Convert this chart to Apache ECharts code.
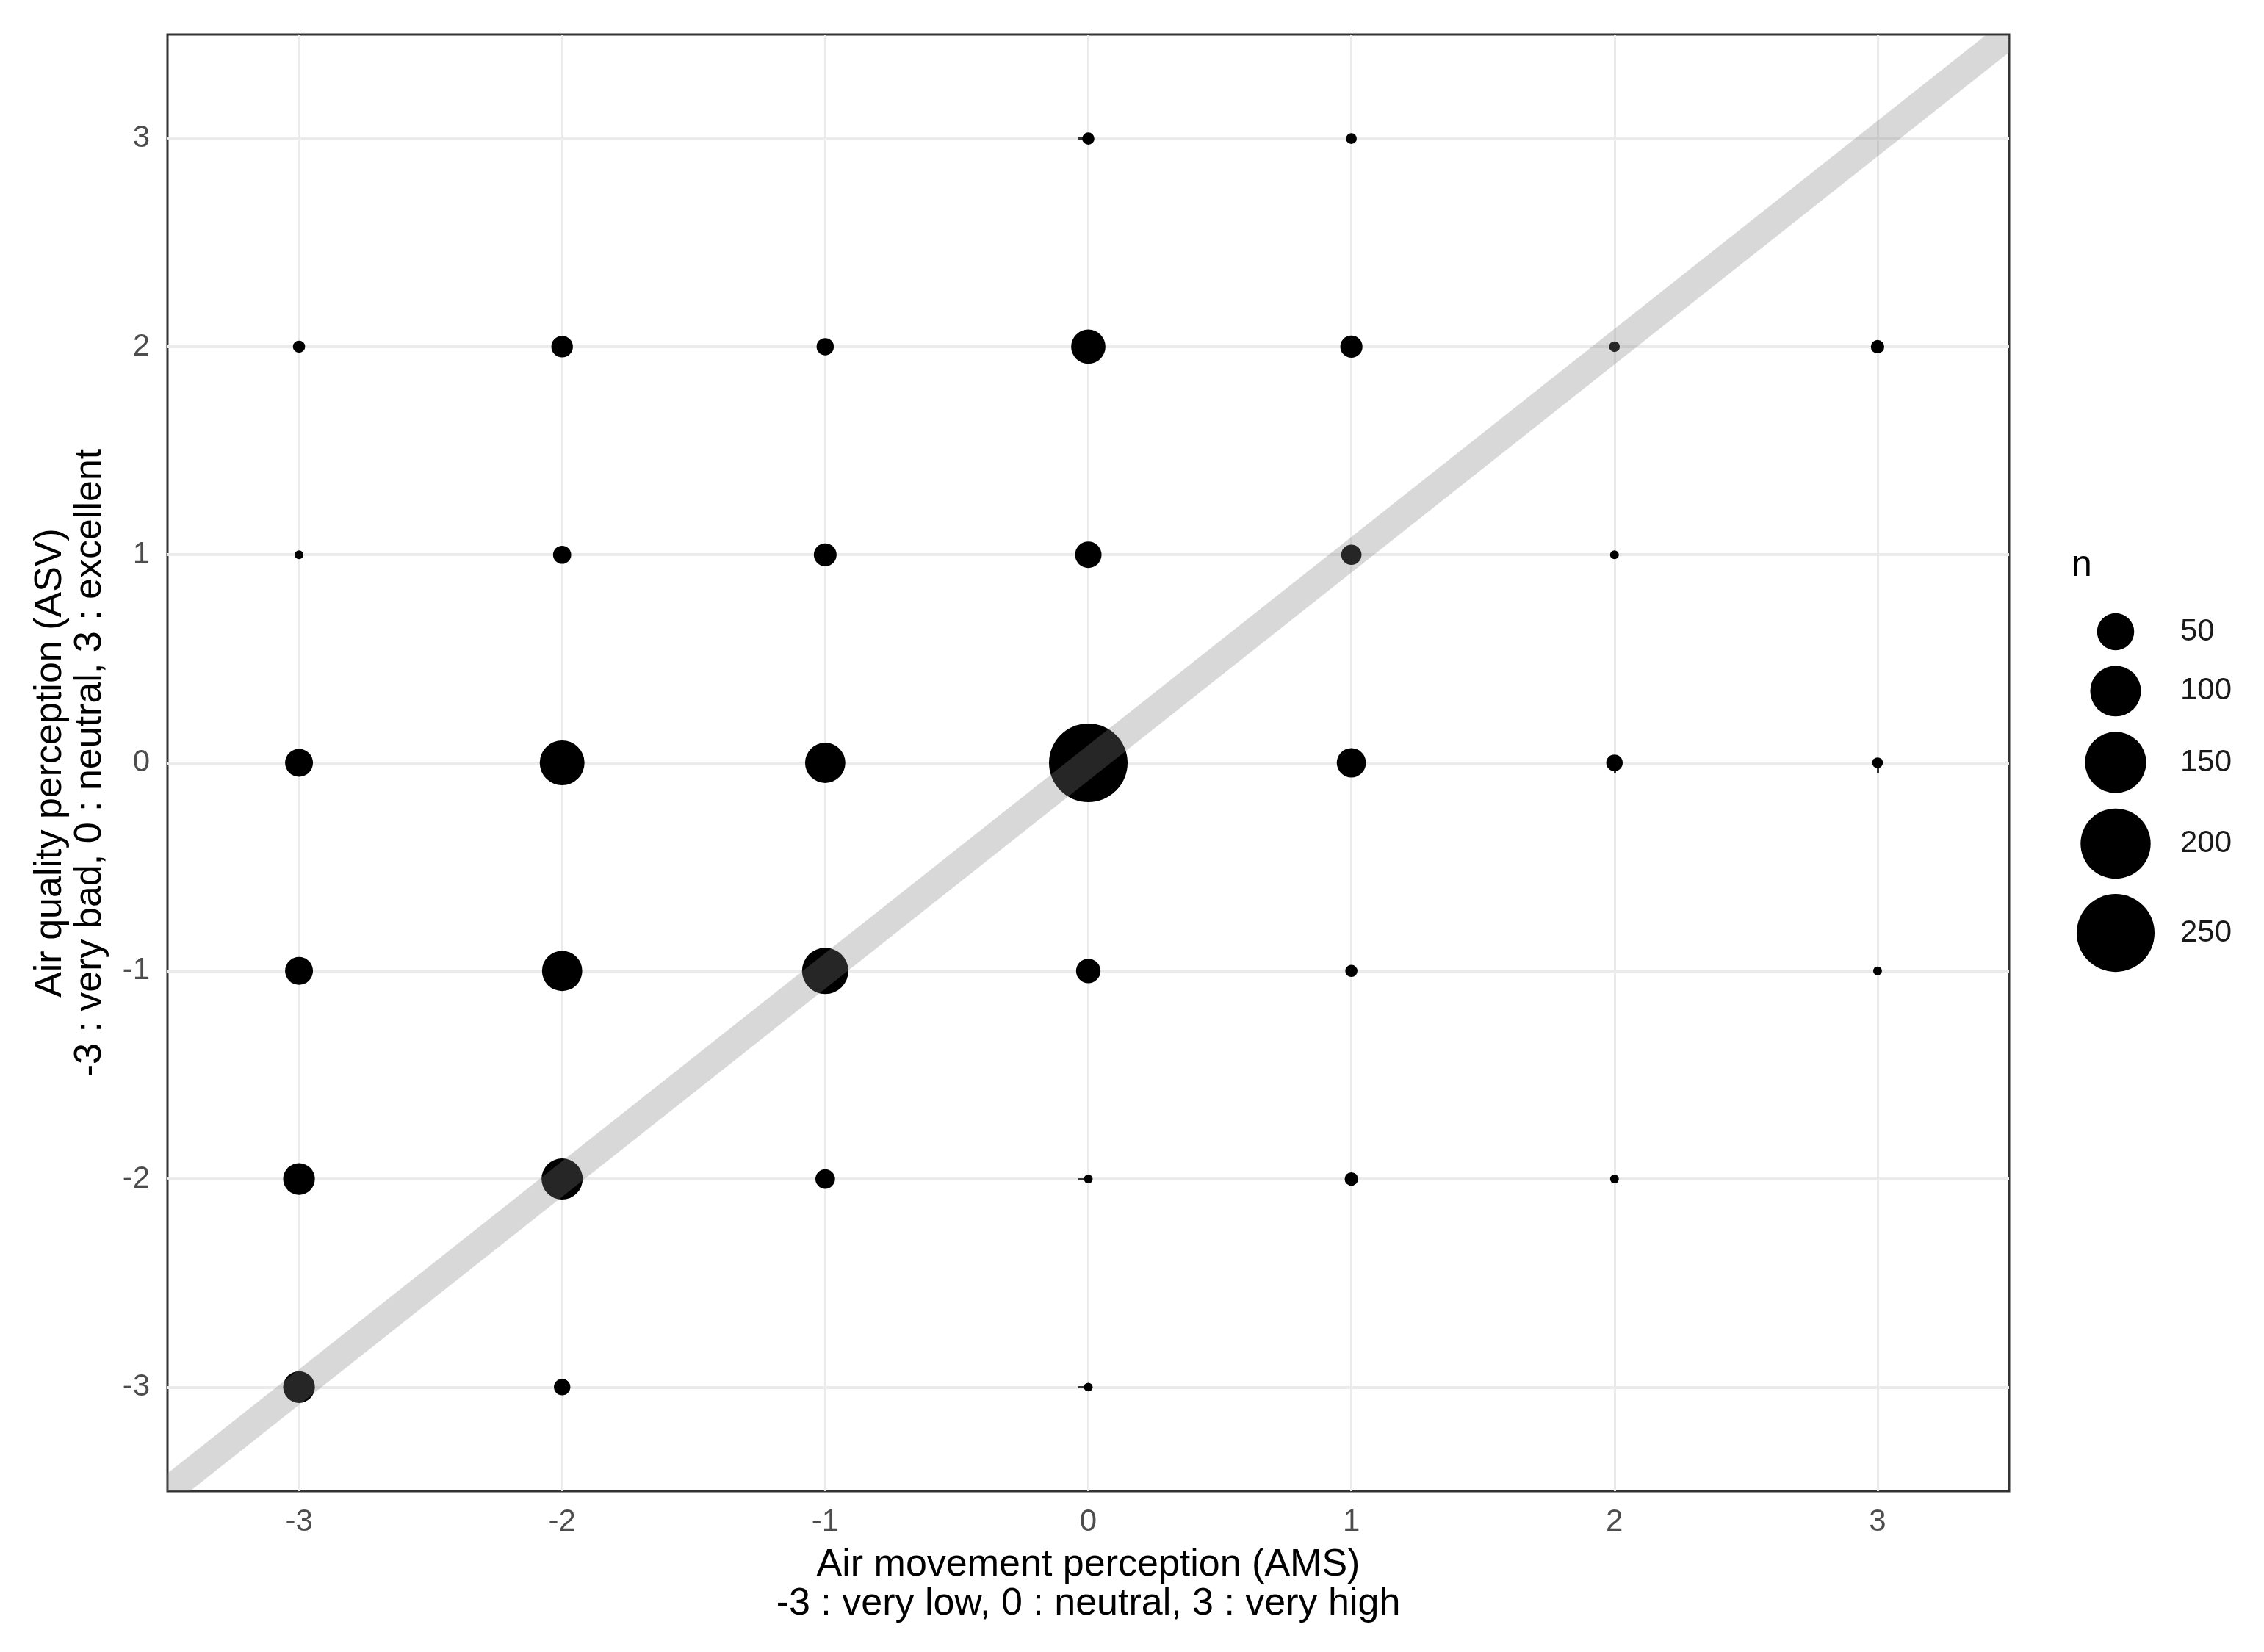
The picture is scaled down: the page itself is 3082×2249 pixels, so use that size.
<!DOCTYPE html>
<html>
<head>
<meta charset="utf-8">
<title>AMS vs ASV</title>
<script src="https://cdn.jsdelivr.net/npm/echarts@6/dist/echarts.min.js"></script>
<style>
  body { margin: 0; background: #fff; }
  #chart { width: 3082px; height: 2249px; }
</style>
</head>
<body>
<div id="chart"></div>
<script>
// counts per (AMS, ASV) pair
const ams   = [0, 1,  -3, -2, -1, 0, 1, 2, 3,  -3, -2, -1, 0, 1, 2,  -3, -2, -1, 0, 1, 2, 3,  -3, -2, -1, 0, 1, 3,  -3, -2, -1, 0, 1, 2,  -3, -2, 0];
const asv   = [3, 3,   2,  2,  2, 2, 2, 2, 2,   1,  1,  1, 1, 1, 1,   0,  0,  0, 0, 0, 0, 0,  -1, -1, -1, -1, -1, -1,  -2, -2, -2, -2, -2, -2,  -3, -3, -3];
const count = [3, 2,   3, 14,  8, 42, 15, 2, 4,  1,  9, 16, 23, 12, 1,  26, 76, 60, 255, 29, 7, 2,  26, 60, 82, 19, 3, 1,  35, 63, 11, 1, 4, 1,  35, 7, 1];

const ticks = [-3, -2, -1, 0, 1, 2, 3];
const legendBreaks = [50, 100, 150, 200, 250];
// y = x reference line, drawn past the panel and clipped to it
const refLine = [-4, 4];

const FONT = "'Liberation Sans', Arial, sans-serif";

// area-proportional bubble size (diameter in px)
const sizeOf = (n) => 5.6 + 6.35 * Math.sqrt(n);

const points = ams.map((x, i) => [x, asv[i], count[i]]);

// legend keys, stacked like ggplot's size guide
const legendItems = [];
let cy = 860;
legendBreaks.forEach((b, i) => {
    const d = sizeOf(b);
    if (i > 0) cy += (sizeOf(legendBreaks[i - 1]) + d) / 2 + 21;
    legendItems.push({
        type: 'circle',
        shape: { cx: 2880, cy: cy, r: d / 2 },
        style: { fill: '#000' }
    });
    legendItems.push({
        type: 'text',
        x: 2968, y: cy,
        style: { text: String(b), font: '42px ' + FONT, fill: '#1a1a1a', textVerticalAlign: 'middle' }
    });
});
legendItems.push({
    type: 'text',
    x: 2820, y: 770,
    style: { text: 'n', font: '50px ' + FONT, fill: '#000', textVerticalAlign: 'middle' }
});

const axisCommon = {
    type: 'value',
    min: -3.5,
    max: 3.5,
    axisLine: { show: false },
    axisTick: { show: true, length: 14, customValues: ticks, lineStyle: { color: '#333', width: 3 } },
    nameLocation: 'middle'
};

const chart = echarts.init(document.getElementById('chart'));
chart.setOption({
    backgroundColor: '#fff',
    animation: false,
    grid: {
        left: 228, right: 347, top: 47, bottom: 219,
        show: true, borderColor: '#333', borderWidth: 3, backgroundColor: 'transparent'
    },
    xAxis: Object.assign({}, axisCommon, {
        name: 'Air movement perception (AMS)\n-3 : very low, 0 : neutral, 3 : very high',
        nameGap: 74,
        nameTextStyle: { fontSize: 52, lineHeight: 53, color: '#000', fontFamily: FONT },
        axisLabel: { customValues: ticks, margin: 21, fontSize: 42, color: '#4d4d4d', fontFamily: FONT },
        splitLine: { show: true, lineStyle: { color: '#ebebeb', width: 3 } }
    }),
    yAxis: Object.assign({}, axisCommon, {
        name: 'Air quality perception (ASV)\n-3 : very bad, 0 : neutral, 3 : excellent',
        nameGap: 78,
        nameTextStyle: { fontSize: 52, lineHeight: 54, color: '#000', fontFamily: FONT },
        axisLabel: { customValues: ticks, margin: 24, fontSize: 42, color: '#4d4d4d', fontFamily: FONT },
        splitLine: { show: true, lineStyle: { color: '#ebebeb', width: 4 } }
    }),
    series: [
        {
            type: 'scatter',
            data: points,
            symbol: 'circle',
            symbolSize: (val) => sizeOf(val[2]),
            itemStyle: { color: '#000', opacity: 1 },
            z: 2
        },
        {
            // thick translucent y = x line, clipped exactly to the panel
            type: 'custom',
            data: [refLine],
            clip: true,
            renderItem: (params, api) => {
                const a = api.value(0);
                const b = api.value(1);
                const p0 = api.coord([a, a]);
                const p1 = api.coord([b, b]);
                return {
                    type: 'line',
                    shape: { x1: p0[0], y1: p0[1], x2: p1[0], y2: p1[1] },
                    style: { stroke: 'rgba(127,127,127,0.3)', lineWidth: 38, fill: null }
                };
            },
            z: 3
        }
    ],
    graphic: legendItems
});
</script>
</body>
</html>
